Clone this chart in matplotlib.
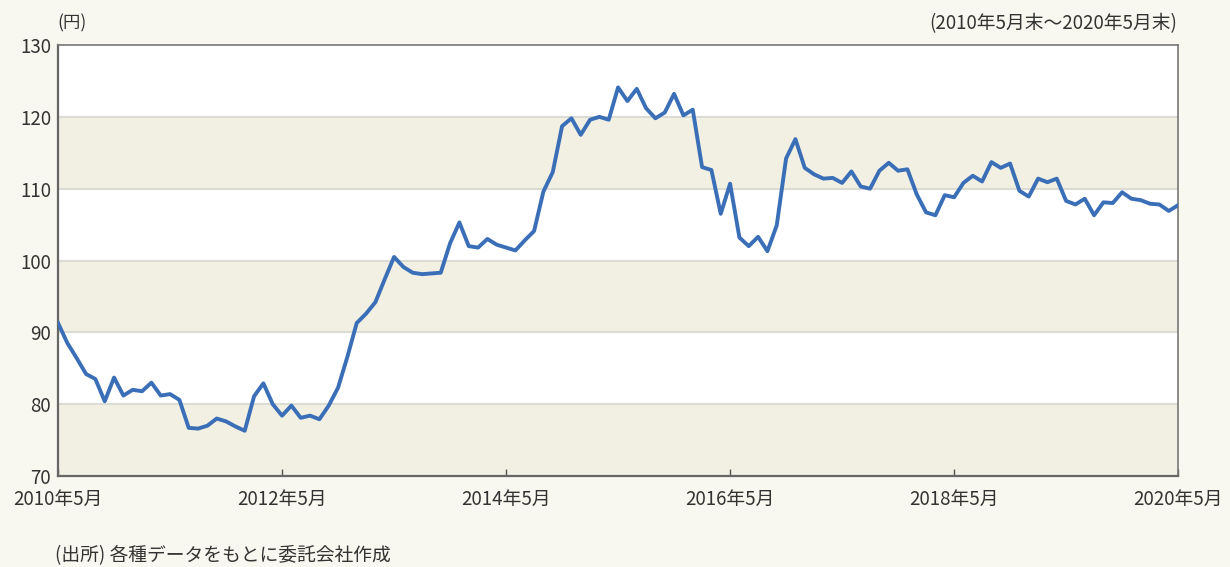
import matplotlib.pyplot as plt

plt.rcParams['font.family'] = ['Noto Sans CJK JP', 'DejaVu Sans']

# 月末の米ドル/円レート (2010年5月末〜2020年5月末)
rate_2010 = [91.3, 88.5, 86.4, 84.2, 83.5, 80.4, 83.7, 81.2]
rate_2011 = [82.0, 81.8, 83.0, 81.2, 81.4, 80.6, 76.7, 76.6, 77.0, 78.0, 77.6, 76.9]
rate_2012 = [76.3, 81.1, 82.9, 80.0, 78.4, 79.8, 78.1, 78.4, 77.9, 79.8, 82.3, 86.6]
rate_2013 = [91.3, 92.6, 94.2, 97.4, 100.5, 99.1, 98.3, 98.1, 98.2, 98.3, 102.4, 105.3]
rate_2014 = [102.0, 101.8, 103.0, 102.2, 101.8, 101.4, 102.8, 104.1, 109.6, 112.3, 118.7, 119.8]
rate_2015 = [117.5, 119.6, 120.0, 119.6, 124.1, 122.2, 123.9, 121.2, 119.8, 120.6, 123.2, 120.2]
rate_2016 = [121.0, 113.0, 112.6, 106.5, 110.7, 103.2, 102.0, 103.3, 101.3, 104.9, 114.2, 116.9]
rate_2017 = [112.9, 112.0, 111.4, 111.5, 110.8, 112.4, 110.3, 110.0, 112.5, 113.6, 112.5, 112.7]
rate_2018 = [109.2, 106.7, 106.3, 109.1, 108.8, 110.8, 111.8, 111.0, 113.7, 112.9, 113.5, 109.7]
rate_2019 = [108.9, 111.4, 110.9, 111.4, 108.3, 107.8, 108.6, 106.3, 108.1, 108.0, 109.5, 108.6]
rate_2020 = [108.4, 107.9, 107.8, 106.9, 107.7]

rates = (rate_2010 + rate_2011 + rate_2012 + rate_2013 + rate_2014 + rate_2015
         + rate_2016 + rate_2017 + rate_2018 + rate_2019 + rate_2020)
months = list(range(len(rates)))

tick_labels = ['2010年5月', '2012年5月', '2014年5月', '2016年5月', '2018年5月', '2020年5月']
y_ticks = [70, 80, 90, 100, 110, 120, 130]

bg = '#f8f7f0'
band = '#f2efe3'
txt = '#333333'

fig = plt.figure(figsize=(12.3, 5.67), dpi=100, facecolor=bg)
ax = fig.add_axes([0.0472, 0.1605, 0.9106, 0.7601])
ax.set_facecolor('white')

# 背景の縞
for lo in (70, 90, 110):
    ax.axhspan(lo, lo + 10, color=band, zorder=0, lw=0)
for y in y_ticks[1:-1]:
    ax.axhline(y, color='#dcdcd6', lw=1.5, zorder=1)

ax.plot(months, rates, color='#3a6fb8', lw=2.8, zorder=3, solid_joinstyle='round')

ax.set_xlim(0, 120)
ax.set_ylim(70, 130)
ax.set_xticks(range(0, 121, 24))
ax.set_xticklabels(tick_labels, fontsize=13.5, color=txt)
ax.set_yticks(y_ticks)
ax.set_yticklabels([str(v) for v in y_ticks], fontsize=13.5, color=txt)
ax.tick_params(axis='x', direction='in', length=5, width=1, color='#555555', pad=9)
ax.tick_params(axis='y', length=0, pad=5)

for side in ('left', 'bottom'):
    ax.spines[side].set_color('#666666')
    ax.spines[side].set_linewidth(1.6)
for side in ('top', 'right'):
    ax.spines[side].set_color('#777777')
    ax.spines[side].set_linewidth(1.2)

fig.text(0.047, 0.958, '(円)', fontsize=12.5, color=txt, ha='left', va='center')
fig.text(0.957, 0.958, '(2010年5月末～2020年5月末)', fontsize=13.5, color=txt,
         ha='right', va='center')
fig.text(0.045, 0.02, '(出所) 各種データをもとに委託会社作成', fontsize=13.5, color=txt,
         ha='left', va='center')

fig.savefig('out.png', dpi=100, facecolor=bg)
